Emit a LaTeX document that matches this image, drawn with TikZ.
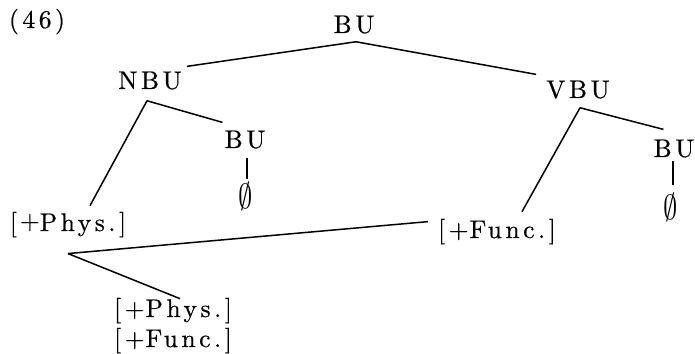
\documentclass[tikz,border=0pt]{standalone}
\usepackage{graphicx}
\usepackage{fontspec}
\setmainfont{lmroman10-regular}[Extension=.otf, LetterSpace=14, FakeBold=0.6]
\usetikzlibrary{calc}
\begin{document}
\begin{tikzpicture}[x=1pt,y=1pt,
  lab/.style={inner sep=0pt, anchor=base, font=\fontsize{25.5}{28}\selectfont},
  nul/.style={inner sep=0pt, anchor=center, font=\fontsize{24.88}{28}\selectfont},
  edge/.style={line width=1.5pt}]
\useasboundingbox (0,0) rectangle (695,353);
\node[lab] (n46) at (37,325) {(46)};
\node[lab] (bu) at (354,320) {BU};
\node[lab] (nbu) at (150,264) {NBU};
\node[lab] (vbu) at (578,255) {VBU};
\node[lab] (bul) at (245,205) {BU};
\node[lab] (bur) at (674,196) {BU};
\node[nul] (phil) at (246,157) {\scalebox{1.15}[1.4]{$\emptyset$}};
\node[nul] (phir) at (671,146) {\scalebox{1.15}[1.4]{$\emptyset$}};
\node[lab] (phys) at (68,122) {[\kern3pt\raisebox{2pt}{+}Phys.]};
\node[lab] (funcr) at (497,115) {[+\kern1pt Func.]};
\node[lab] (physl) at (173,36) {[+\kern1pt Phys.]};
\node[lab] (funcl) at (173,6) {[+\kern1pt Func.]};
\coordinate (corner) at ([yshift=-16pt]phys.south);
% connectors
\draw[edge] ([shift={(2pt,-8pt)}]bu.south) -- ([shift={(5pt,5pt)}]nbu.north east);
\draw[edge] ([shift={(2pt,-8pt)}]bu.south) -- ([shift={(-10pt,6pt)}]vbu.north west);
\draw[edge] ([shift={(-3pt,-11pt)}]nbu.south) -- ([shift={(-2pt,8pt)}]bul.north west);
\draw[edge] ([shift={(-3pt,-11pt)}]nbu.south) -- ([shift={(22pt,6pt)}]phys.north);
\draw[edge] ([shift={(2pt,-9pt)}]bul.south) -- ([shift={(1pt,3pt)}]phil.north);
\draw[edge] ([shift={(2pt,-9pt)}]vbu.south) -- ([shift={(10pt,10pt)}]bur.north west);
\draw[edge] ([shift={(2pt,-9pt)}]vbu.south) -- ([shift={(25pt,7pt)}]funcr.north);
\draw[edge] ([shift={(-1pt,-3pt)}]bur.south) -- ([shift={(2pt,8pt)}]phir.north);
\draw[edge] (corner) -- ([shift={(-10pt,10pt)}]funcr.west);
\draw[edge] (corner) -- ([shift={(7pt,-1pt)}]physl.north);
\end{tikzpicture}
\end{document}
